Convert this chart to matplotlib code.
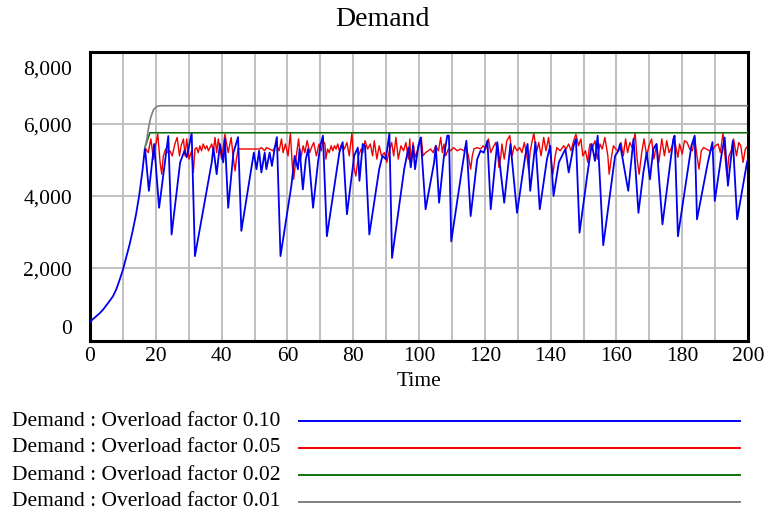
import matplotlib
matplotlib.use("Agg")
import matplotlib.pyplot as plt
from matplotlib.lines import Line2D
from matplotlib.ticker import MultipleLocator, StrMethodFormatter
from matplotlib.transforms import ScaledTranslation

plt.rcParams['font.family'] = ['Liberation Serif', 'DejaVu Serif']

# common start-up curve (all four runs are the same up to t ~ 16.7)
growth_t = [0, 1, 2, 3, 4, 5, 6, 7, 8, 9, 10, 11, 12, 13, 14, 15, 16, 16.7]
growth_v = [520, 600, 680, 760, 860, 980, 1100, 1230, 1420, 1680, 1960, 2300,
            2650, 3050, 3500, 4050, 4750, 5350]

# Overload factor 0.10 (blue)
blue_t = [17.9, 19.5, 21.0, 23.8, 24.8, 27.4, 28.7, 29.4, 30.9, 31.9, 37.0, 37.5,
          38.5, 39.5, 40.5, 41.0, 42.0, 43.6, 45.0, 46.0, 49.3, 49.8, 50.6, 51.4,
          52.1, 53.1, 53.6, 54.6, 55.3, 56.1, 56.8, 57.9, 61.2, 62.2, 63.2, 63.7,
          64.7, 65.6, 66.3, 67.8, 69.3, 70.0, 70.8, 72.0, 75.8, 76.8, 78.1, 80.3,
          81.4, 81.9, 82.9, 83.6, 84.9, 87.9, 88.9, 89.9, 91.0, 91.8, 95.5, 96.8,
          97.5, 98.2, 98.8, 99.8, 100.5, 102.0, 104.6, 105.1, 106.1, 107.6, 108.6, 109.1,
          109.8, 113.2, 114.4, 115.7, 117.7, 118.7, 119.7, 120.8, 121.8, 123.8, 125.9, 127.8,
          129.8, 132.3, 133.0, 133.8, 135.4, 136.7, 138.9, 139.9, 140.9, 142.5, 144.5, 145.5,
          147.0, 147.7, 148.8, 151.1, 152.5, 153.5, 154.3, 156.0, 159.6, 160.6, 161.1, 163.6,
          165.2, 166.7, 168.2, 169.2, 170.2, 171.2, 172.2, 174.0, 177.3, 177.7, 178.7, 182.8,
          183.8, 184.5, 187.8, 189.2, 189.9, 191.9, 192.9, 193.9, 195.4, 196.7, 199.7, 200.0]
blue_v = [4150, 5450, 3680, 5670, 2940, 4940, 5260, 5080, 5750, 2340, 4940, 5350,
          4610, 5450, 4940, 5590, 3680, 5210, 5640, 3040, 4940, 5210, 4750, 5260,
          4660, 5210, 4750, 5210, 4840, 5310, 5640, 2340, 4290, 5120, 4750, 5310,
          4190, 5030, 5310, 3680, 4940, 5400, 5680, 2890, 5210, 5500, 3500, 5120,
          5350, 4430, 5450, 5400, 2940, 4750, 5120, 5030, 5750, 2290, 4750, 5350,
          4800, 5400, 4750, 5400, 5630, 3640, 4940, 5400, 3820, 5120, 5680, 5680,
          2750, 4840, 5540, 3450, 5030, 5260, 5210, 5540, 3640, 5500, 3820, 5450,
          3540, 5120, 5450, 4150, 5500, 3640, 5030, 5400, 4010, 4940, 5310, 4660,
          5400, 5590, 2990, 4560, 5450, 4980, 5680, 2640, 5120, 5260, 5450, 4150,
          5590, 3540, 4660, 5210, 4470, 5310, 5450, 3220, 5590, 5680, 2890, 5400,
          5680, 3360, 4940, 5500, 3870, 5120, 5630, 4290, 5540, 3360, 4940, 5030]

# Overload factor 0.05 (red)
red_t = [17.7, 18.5, 19.3, 19.8, 20.6, 21.3, 21.8, 22.3, 23.0, 23.6, 24.3, 25.0,
         25.8, 26.5, 27.2, 27.7, 28.4, 28.9, 29.4, 30.1, 30.9, 31.4, 31.9, 32.4,
         32.9, 33.4, 33.9, 34.4, 35.0, 35.5, 36.0, 37.0, 37.5, 38.0, 38.5, 39.0,
         40.0, 41.0, 42.0, 42.9, 43.6, 44.1, 44.5, 45.0, 51.6, 52.1, 53.1, 53.6,
         54.6, 55.6, 56.1, 56.6, 57.5, 58.2, 58.7, 59.4, 60.2, 60.9, 61.5, 61.9,
         62.7, 63.4, 64.0, 64.8, 65.3, 66.0, 66.8, 67.3, 68.0, 68.8, 69.6, 70.3,
         70.8, 71.4, 71.7, 72.2, 72.7, 73.3, 73.8, 74.3, 74.8, 75.3, 75.8, 76.5,
         77.3, 78.1, 78.8, 79.6, 80.3, 80.8, 81.6, 82.4, 82.9, 83.6, 84.4, 85.2,
         85.9, 86.4, 87.2, 87.9, 88.6, 89.5, 90.2, 91.0, 91.7, 92.3, 93.0, 93.7,
         94.5, 95.3, 96.0, 96.8, 97.2, 97.6, 98.2, 98.8, 99.5, 100.0, 100.7, 101.2,
         102.0, 102.8, 103.5, 104.3, 105.1, 105.9, 106.6, 107.1, 107.6, 108.1, 108.9, 109.6,
         110.5, 111.6, 112.6, 113.7, 114.2, 115.0, 115.7, 116.2, 116.7, 117.7, 118.7, 119.5,
         120.3, 121.1, 121.8, 122.5, 123.3, 123.9, 124.3, 124.9, 125.2, 125.9, 126.7, 127.6,
         128.3, 129.0, 129.8, 130.6, 131.3, 132.0, 132.8, 133.3, 133.8, 134.9, 135.7, 136.4,
         137.1, 137.9, 138.6, 139.4, 140.1, 140.7, 141.4, 141.9, 142.9, 144.0, 144.7, 145.5,
         146.2, 147.0, 147.7, 148.5, 149.2, 149.8, 150.6, 151.3, 151.7, 152.0, 152.7, 153.5,
         154.2, 155.0, 155.7, 156.5, 157.4, 157.8, 158.4, 159.1, 159.8, 160.6, 161.4, 162.1,
         162.8, 163.4, 164.1, 164.8, 165.7, 166.3, 166.9, 167.7, 168.4, 169.2, 169.9, 170.7,
         171.4, 172.2, 172.9, 173.8, 174.6, 175.3, 176.0, 176.8, 177.6, 178.4, 178.7, 179.2,
         180.0, 180.7, 181.5, 182.3, 183.1, 183.8, 184.5, 185.1, 185.8, 186.5, 187.3, 188.3,
         189.4, 190.1, 190.9, 191.6, 192.4, 193.1, 193.6, 194.2, 194.9, 195.6, 196.5, 197.2,
         197.8, 198.5, 199.2, 200.0]
red_v = [5210, 5590, 5030, 5350, 5720, 4940, 4610, 5120, 5310, 5210, 5260, 5120,
         5450, 5630, 5120, 5400, 5590, 5120, 5590, 5030, 5260, 4660, 5310, 5350,
         5210, 5400, 5260, 5450, 5310, 5400, 5260, 5450, 5260, 5630, 5210, 5590,
         5030, 5720, 5210, 5630, 5030, 4700, 5030, 5310, 5310, 5350, 5260, 5350,
         5310, 5260, 5350, 5450, 5260, 5590, 5210, 5450, 5120, 5750, 4840, 4470,
         5120, 5590, 5030, 5400, 5210, 5540, 5210, 5350, 5490, 5120, 5450, 5260,
         5540, 5450, 5030, 5310, 5210, 5400, 5260, 5400, 5310, 5450, 5260, 5450,
         5310, 5490, 5120, 5750, 4750, 4560, 5120, 5310, 5210, 5540, 5310, 5450,
         5120, 5540, 5030, 5400, 5120, 5210, 4940, 5260, 5490, 5120, 5630, 5030,
         5400, 5260, 5490, 5030, 5590, 4840, 5490, 5080, 5260, 5400, 5630, 5120,
         5210, 5260, 5310, 5210, 5400, 5260, 5630, 5210, 5450, 5120, 5310, 5260,
         5350, 5260, 5310, 5260, 5400, 5120, 4750, 5120, 5310, 5350, 5310, 5400,
         5310, 5590, 5210, 5350, 5490, 5210, 4800, 5120, 5450, 5030, 5540, 5680,
         5120, 5400, 5260, 5350, 5210, 5490, 5120, 4750, 5260, 5750, 5210, 5490,
         5120, 5630, 5260, 5630, 5030, 4610, 5120, 5350, 5260, 5400, 5310, 5450,
         5260, 5540, 5720, 5400, 5590, 5120, 5260, 4940, 5310, 5450, 5350, 5540,
         5030, 5450, 5310, 5630, 5120, 4610, 5030, 5400, 5310, 5260, 5490, 5120,
         5590, 5210, 5490, 5350, 5750, 5030, 4610, 5210, 5590, 5120, 5400, 5590,
         5030, 5450, 4940, 5590, 5120, 5540, 5210, 5350, 5590, 5210, 5080, 5450,
         5170, 5540, 5490, 5310, 5260, 5630, 5120, 4750, 5260, 5350, 5310, 5260,
         5310, 5400, 5450, 5210, 5750, 5030, 4560, 5120, 5260, 5590, 5120, 5490,
         5400, 4940, 5310, 5400]

# Overload factor 0.02 (green)
green_t = [18.2, 200]
green_v = [5760, 5760]

# Overload factor 0.01 (gray)
gray_t = [17.3, 17.8, 18.5, 19.3, 20.3, 21.5, 200]
gray_v = [5600, 5900, 6200, 6400, 6490, 6510, 6510]

labels = ['Demand : Overload factor 0.10', 'Demand : Overload factor 0.05',
          'Demand : Overload factor 0.02', 'Demand : Overload factor 0.01']
colors = ['#0000f0', '#f00000', '#107010', '#808080']

fig = plt.figure(figsize=(7.65, 5.14), dpi=100)
ax = fig.add_axes([90 / 765, 1 - 340.5 / 514, 658 / 765, 288.5 / 514])

# the other runs branch off the end of the shared start-up curve
t0, v0 = growth_t[-1:], growth_v[-1:]
ax.plot(t0 + red_t, v0 + red_v, color=colors[1], lw=1.0, zorder=2)
ax.plot(growth_t + blue_t, growth_v + blue_v, color=colors[0], lw=1.3, zorder=3)
ax.plot(t0 + green_t, v0 + green_v, color=colors[2], lw=1.2, zorder=4)
ax.plot(t0 + gray_t, v0 + gray_v, color=colors[3], lw=1.2, zorder=4)

ax.set_xlim(0, 200)
ax.set_ylim(0, 8000)
ax.xaxis.set_major_locator(MultipleLocator(20))
ax.xaxis.set_minor_locator(MultipleLocator(10))
ax.set_yticks([0, 2000, 4000, 6000, 8000])
ax.yaxis.set_major_formatter(StrMethodFormatter('{x:,.0f}'))
ax.grid(True, which='both', axis='x', color='#c0c0c0', lw=1.4)
ax.grid(True, which='major', axis='y', color='#c0c0c0', lw=1.4)
ax.set_axisbelow(True)
ax.tick_params(which='both', length=0, labelsize=15.5)
ax.tick_params(axis='y', pad=13)
ax.tick_params(axis='x', pad=5)
for s in ax.spines.values():
    s.set_linewidth(2.2)
    s.set_color('black')

ax.set_xlabel('Time', fontsize=15.5, labelpad=4)

# Vensim keeps the end labels inside the plot box
yt = ax.yaxis.get_major_ticks()
yt[0].label1.set_transform(yt[0].label1.get_transform()
                           + ScaledTranslation(0, 0.13, fig.dpi_scale_trans))
yt[-1].label1.set_transform(yt[-1].label1.get_transform()
                            + ScaledTranslation(0, -0.16, fig.dpi_scale_trans))

fig.text(0.5, 1 - 20 / 514, 'Demand', ha='center', va='center', fontsize=20)

# legend rows under the chart
for i, (lab, c) in enumerate(zip(labels, colors)):
    y = 1 - (421 + 27 * i) / 514
    fig.text(12 / 765, y, lab, ha='left', va='center', fontsize=15.5)
    fig.add_artist(Line2D([299 / 765, 740 / 765], [y, y], color=c, lw=1.4,
                          transform=fig.transFigure))

fig.savefig('out.png', dpi=100)
